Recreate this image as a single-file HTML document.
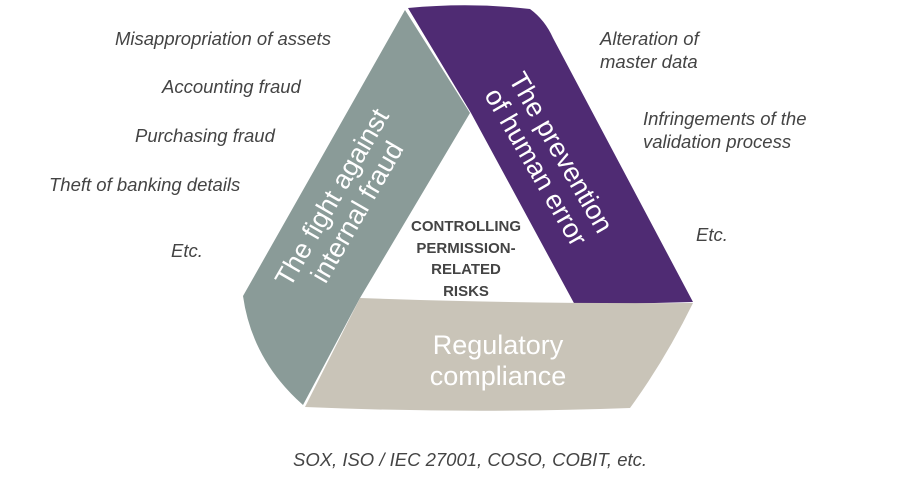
<!DOCTYPE html>
<html><head><meta charset="utf-8"><style>
html,body{margin:0;padding:0;background:#fff;}
svg{display:block;}
.l{font-family:"Liberation Sans",sans-serif;font-style:italic;font-size:18.5px;fill:#444;}
.w{font-family:"Liberation Sans",sans-serif;font-size:27px;fill:#fff;}
.c{font-family:"Liberation Sans",sans-serif;font-weight:bold;font-size:15px;fill:#444;}
</style></head><body>
<svg width="897" height="481" viewBox="0 0 897 481" xmlns="http://www.w3.org/2000/svg">
<rect width="897" height="481" fill="#fff"/>
<path d="M405,10 L470,113 L360,298 L303,405 Q252,360 243,296 Z" fill="#8a9b98"/>
<path d="M408,8 Q470,2 530,9 Q545,20 553,38 L693,302 L575,305 L471,113 Z" fill="#4f2b73"/>
<path d="M360,298 Q520,304 693,303 Q665,360 630,408 Q470,414 305,407 Z" fill="#c9c4b8"/>

<text class="w" transform="translate(345,205) rotate(-60)" text-anchor="middle"><tspan x="0" y="-6">The fight against</tspan><tspan x="0" y="23">internal fraud</tspan></text>
<text class="w" transform="translate(548,160) rotate(60)" text-anchor="middle"><tspan x="0" y="-6">The prevention</tspan><tspan x="0" y="23">of human error</tspan></text>
<text class="w" text-anchor="middle" x="498" y="354">Regulatory</text>
<text class="w" text-anchor="middle" x="498" y="385">compliance</text>

<text class="c" text-anchor="middle" x="466" y="231">CONTROLLING</text>
<text class="c" text-anchor="middle" x="466" y="253">PERMISSION-</text>
<text class="c" text-anchor="middle" x="466" y="274">RELATED</text>
<text class="c" text-anchor="middle" x="466" y="296">RISKS</text>

<text class="l" x="115" y="45">Misappropriation of assets</text>
<text class="l" x="162" y="93">Accounting fraud</text>
<text class="l" x="135" y="142">Purchasing fraud</text>
<text class="l" x="49" y="191">Theft of banking details</text>
<text class="l" x="171" y="257">Etc.</text>
<text class="l" x="600" y="45">Alteration of</text>
<text class="l" x="600" y="68">master data</text>
<text class="l" x="643" y="125">Infringements of the</text>
<text class="l" x="643" y="148">validation process</text>
<text class="l" x="696" y="241">Etc.</text>
<text class="l" x="470" y="466" text-anchor="middle">SOX, ISO / IEC 27001, COSO, COBIT, etc.</text>
</svg>
</body></html>
